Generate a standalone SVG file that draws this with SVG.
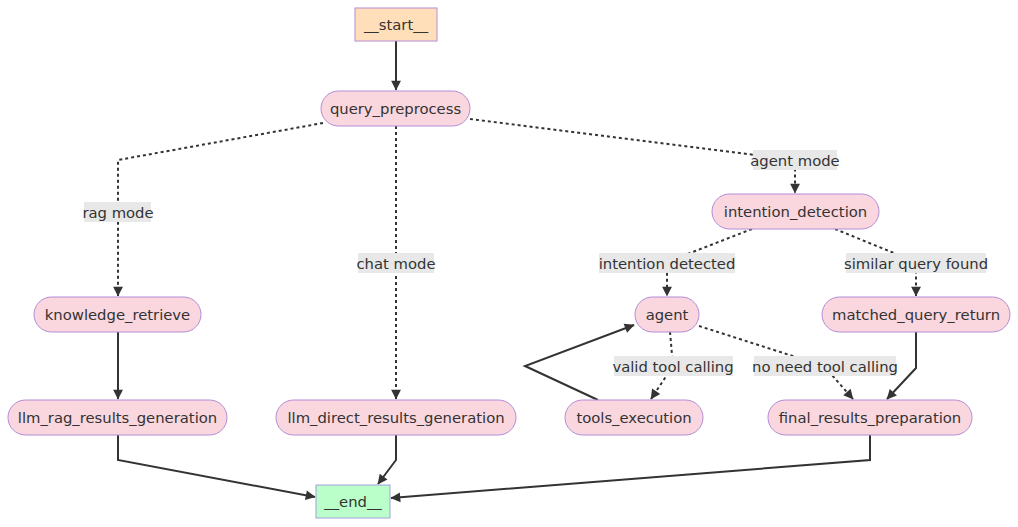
<svg xmlns="http://www.w3.org/2000/svg" width="1018" height="527" viewBox="0 0 1018 527">
<defs>
<style>
.node rect{fill:#fad7de;stroke:#b48cd8;stroke-width:1}
.start rect{fill:#ffdfba;stroke:#b48cd8;stroke-width:1}
.end rect{fill:#baffc9;stroke:#a0a0e0;stroke-width:1}
text{font-family:"DejaVu Sans",Verdana,sans-serif;font-size:14.8px;fill:#333;text-anchor:middle;dominant-baseline:central}
.e{fill:none;stroke:#333;stroke-width:2}
.d{stroke-dasharray:3 3}
.lb{fill:#e8e8e8}
</style>
<marker id="ah" viewBox="0 0 10 10" refX="9" refY="5" markerWidth="7" markerHeight="7" markerUnits="userSpaceOnUse" orient="auto" overflow="visible">
<path d="M0,0 L10,5 L0,10 z" fill="#333" transform="scale(1.4) translate(-3,-1.45)"/>
</marker>
</defs>
<rect width="1018" height="527" fill="#fff"/>
<g id="edges">
<path class="e" d="M396,41 L396,90" marker-end="url(#ah)"/>
<path class="e d" d="M323,123 L118,160 L118,296" marker-end="url(#ah)"/>
<path class="e d" d="M396,126 L396,399" marker-end="url(#ah)"/>
<path class="e d" d="M470,119 L795,160 L795,193" marker-end="url(#ah)"/>
<path class="e d" d="M752,229 L667,262 L667,296" marker-end="url(#ah)"/>
<path class="e d" d="M835,229 L916,262 L916,296" marker-end="url(#ah)"/>
<path class="e" d="M118,332 L118,399" marker-end="url(#ah)"/>
<path class="e d" d="M670,332 L673,366 L651,399" marker-end="url(#ah)"/>
<path class="e d" d="M699,326 L824,366 L853,399" marker-end="url(#ah)"/>
<path class="e" d="M916,332 L916,368 L887,399" marker-end="url(#ah)"/>
<path class="e" d="M598,400 L525,366 L634,325" marker-end="url(#ah)"/>
<path class="e" d="M118,435 L118,460 L315,497" marker-end="url(#ah)"/>
<path class="e" d="M396,435 L396,460 L378,484" marker-end="url(#ah)"/>
<path class="e" d="M870,435 L870,460 L391,498" marker-end="url(#ah)"/>
<rect class="lb" x="84" y="202" width="67" height="20"/><text x="118" y="212">rag mode</text>
<rect class="lb" x="358" y="253" width="76" height="20"/><text x="396" y="263">chat mode</text>
<rect class="lb" x="753" y="150" width="84" height="20"/><text x="795" y="160">agent mode</text>
<rect class="lb" x="599" y="253" width="136" height="20"/><text x="667" y="263">intention detected</text>
<rect class="lb" x="846" y="253" width="140" height="20"/><text x="916" y="263">similar query found</text>
<rect class="lb" x="614" y="356" width="119" height="20"/><text x="673" y="366">valid tool calling</text>
<rect class="lb" x="754" y="356" width="142" height="20"/><text x="825" y="366">no need tool calling</text>
</g>
<g id="start" class="start"><rect x="355" y="8" width="82" height="33"/><text x="396" y="24.5">__start__</text></g>
<g id="query_preprocess" class="node"><rect x="321" y="91" width="149" height="35" rx="17.5"/><text x="395.5" y="108.5">query_preprocess</text></g>
<g id="knowledge_retrieve" class="node"><rect x="34" y="297" width="167" height="35" rx="17.5"/><text x="117.5" y="314.5">knowledge_retrieve</text></g>
<g id="llm_rag_results_generation" class="node"><rect x="8" y="400" width="219" height="35" rx="17.5"/><text x="117.5" y="417.5">llm_rag_results_generation</text></g>
<g id="llm_direct_results_generation" class="node"><rect x="276" y="400" width="240" height="35" rx="17.5"/><text x="396" y="417.5">llm_direct_results_generation</text></g>
<g id="intention_detection" class="node"><rect x="712" y="194" width="167" height="35" rx="17.5"/><text x="795.5" y="211.5">intention_detection</text></g>
<g id="agent" class="node"><rect x="635" y="297" width="64" height="35" rx="17.5"/><text x="667" y="314.5">agent</text></g>
<g id="matched_query_return" class="node"><rect x="822" y="297" width="188" height="35" rx="17.5"/><text x="916" y="314.5">matched_query_return</text></g>
<g id="tools_execution" class="node"><rect x="565" y="400" width="138" height="35" rx="17.5"/><text x="634" y="417.5">tools_execution</text></g>
<g id="final_results_preparation" class="node"><rect x="768" y="400" width="204" height="35" rx="17.5"/><text x="870" y="417.5">final_results_preparation</text></g>
<g id="end" class="end"><rect x="316" y="485" width="74" height="33"/><text x="353" y="501.5">__end__</text></g>
</svg>
